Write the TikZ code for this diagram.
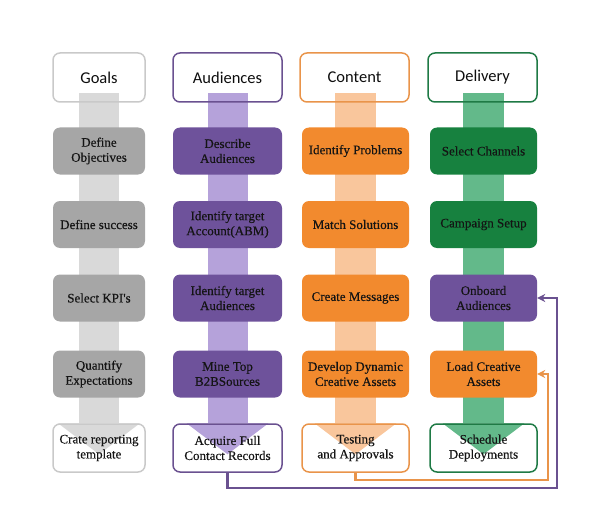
\documentclass[tikz,border=0pt]{standalone}
\usepackage{fontspec}
\setmainfont{Liberation Serif}
\newfontfamily\headfont{Carlito}
\newfontfamily\stepfont[FakeBold=0.4]{Liberation Serif}
\usetikzlibrary{arrows.meta,backgrounds}

\definecolor{goalline}{HTML}{C9C9C9}
\definecolor{goalfill}{HTML}{A6A6A6}
\definecolor{goalband}{HTML}{D9D9D9}
\definecolor{audline}{HTML}{6A5190}
\definecolor{audfill}{HTML}{6E529B}
\definecolor{audband}{HTML}{B5A2DA}
\definecolor{contline}{HTML}{E9944A}
\definecolor{contfill}{HTML}{F28A2E}
\definecolor{contband}{HTML}{F9C69C}
\definecolor{delline}{HTML}{1F7A45}
\definecolor{delfill}{HTML}{17813F}
\definecolor{delband}{HTML}{63B98A}

\tikzset{
  head/.style={draw, rounded corners=7pt, line width=1.5pt, minimum height=49pt,
    font=\headfont\fontsize{16.5}{19}\selectfont, text=black!95},
  stepbox/.style={rounded corners=7pt, minimum height=47pt, align=center,
    font=\stepfont\fontsize{13}{15}\selectfont, text=black!92, inner sep=2pt},
  lastbox/.style={stepbox, draw, line width=1.5pt, minimum height=48pt},
  link/.style={line width=2.2pt, -{Stealth[length=8pt,width=8pt]}}
}

\begin{document}
\begin{tikzpicture}[x=1pt,y=-1pt]
\useasboundingbox (0,0) rectangle (613,532);

\foreach \c/\x/\w/\col/\hd in {g/99/92/goalline/Goals, a/227.5/109/audline/Audiences,
    c/354.5/109/contline/Content, d/482.5/109/delline/Delivery} {
  \node[head, draw=\col, minimum width=\w pt] (\c0) at (\x,77.5) {\hd};
}

% goals
\node[stepbox, fill=goalfill, minimum width=92pt] (g1) at (99,151) {Define\\Objectives};
\node[stepbox, fill=goalfill, minimum width=92pt] (g2) at (99,224.5) {Define success};
\node[stepbox, fill=goalfill, minimum width=92pt] (g3) at (99,298) {Select KPI's};
\node[stepbox, fill=goalfill, minimum width=92pt] (g4x) at (99,374) {Quantify\\Expectations};
\node[lastbox, draw=goalline, minimum width=92pt] (g4) at (99,448) {Crate reporting\\template};

% audiences
\node[stepbox, fill=audfill, minimum width=109pt] (a1) at (227.5,151) {Describe\\Audiences};
\node[stepbox, fill=audfill, minimum width=109pt] (a2) at (227.5,224.5) {Identify target\\Account(ABM)};
\node[stepbox, fill=audfill, minimum width=109pt] (a3) at (227.5,298) {Identify target\\Audiences};
\node[stepbox, fill=audfill, minimum width=109pt] (a4x) at (227.5,374) {Mine Top\\B2BSources};
\node[lastbox, draw=audline, minimum width=109pt] (a4) at (227.5,448) {Acquire Full\\Contact Records};

% content
\node[stepbox, fill=contfill, minimum width=107pt] (c1) at (355.5,151) {Identify Problems};
\node[stepbox, fill=contfill, minimum width=107pt] (c2) at (355.5,224.5) {Match Solutions};
\node[stepbox, fill=contfill, minimum width=107pt] (c3) at (355.5,298) {Create Messages};
\node[stepbox, fill=contfill, minimum width=107pt] (c4x) at (355.5,374) {Develop Dynamic\\Creative Assets};
\node[lastbox, draw=contline, minimum width=107pt] (c4) at (355.5,448) {Testing\\and Approvals};

% delivery
\node[stepbox, fill=delfill, minimum width=107pt] (d1) at (483.5,151) {Select Channels};
\node[stepbox, fill=delfill, minimum width=107pt] (d2x) at (483.5,224.5) {Campaign Setup};
\node[stepbox, fill=audfill, minimum width=107pt] (d2) at (483.5,298) {Onboard\\Audiences};
\node[stepbox, fill=contfill, minimum width=107pt] (d3) at (483.5,374) {Load Creative\\Assets};
\node[lastbox, draw=delline, minimum width=107pt] (d4) at (483.5,448) {Schedule\\Deployments};

\begin{scope}[on background layer]
\foreach \c/\col in {g/goalband, a/audband, c/contband, d/delband} {
  \fill[\col] ([xshift=-20pt,yshift=10pt]\c0.south) rectangle ([xshift=20pt]\c4.north);
  \fill[\col] ([xshift=-41pt]\c4.north) -- ([xshift=41pt]\c4.north) -- ([yshift=-31pt]\c4.north) -- cycle;
}
\end{scope}

\coordinate (pr) at (557,488);
\coordinate (or) at (548,480);
\draw[link, audline] (a4.south) |- (pr) |- (d2.east);
\draw[link, contline] (c4.south) |- (or) |- (d3.east);
\end{tikzpicture}
\end{document}
